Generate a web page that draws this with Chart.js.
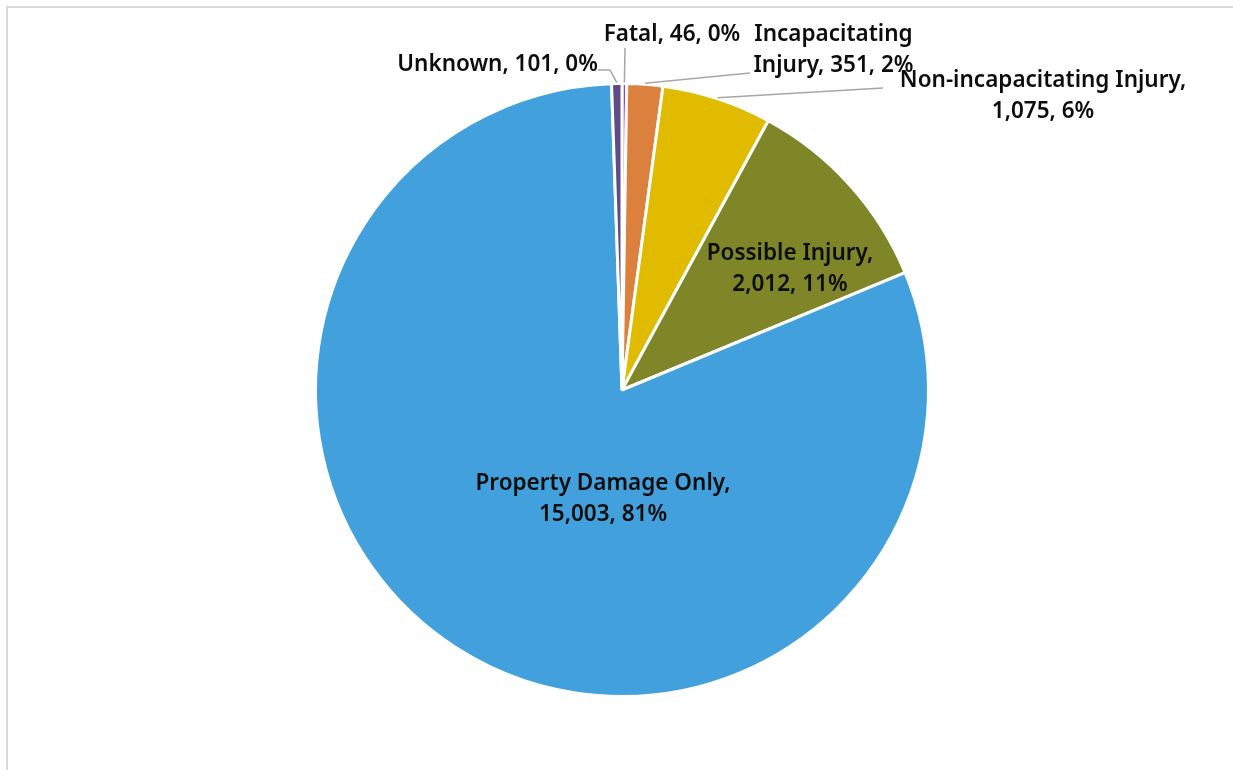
<!DOCTYPE html>
<html>
<head>
<meta charset="utf-8">
<script src="https://cdn.jsdelivr.net/npm/chart.js@4.4.1/dist/chart.umd.min.js"></script>
<style>
  html, body { margin: 0; padding: 0; background: #fff; overflow: hidden; }
  #frame {
    position: absolute; left: 6px; top: 6px; width: 1300px; height: 800px;
    border-left: 2px solid #d9d9d9; border-top: 2px solid #d9d9d9;
  }
  #wrap { position: absolute; left: 0; top: 0; width: 1233px; height: 770px; }
</style>
</head>
<body>
<div id="frame"></div>
<div id="wrap"><canvas id="chart" width="1233" height="770"></canvas></div>
<script>
// Crash counts by severity, clockwise from 12 o'clock
const categories = ['Fatal', 'Incapacitating Injury', 'Non-incapacitating Injury', 'Possible Injury', 'Property Damage Only', 'Unknown'];
const crashCounts = [46, 351, 1075, 2012, 15003, 101];
const percentLabels = [0, 2, 6, 11, 81, 0];
const sliceColors = ['#a8427a', '#db813d', '#e0bb00', '#7f8628', '#42a1dc', '#5e4b87'];

// Where each label wraps (number of words kept on the first line; 0 = single line)
const wrapAfterWords = [0, 1, 2, 2, 3, 0];

// Label placement relative to the pie (offsets in units of the pie radius from its centre)
const labelLayout = [
  { at: [0.163, -1.158], leader: [[0.0098, -1.116]] },
  { at: [0.690, -1.109], leader: [[0.4176, -1.034]] },
  { at: [1.3736, -0.959], leader: [[0.8515, -0.9853]] },
  { at: [0.548, -0.395], leader: null },
  { at: [-0.062, 0.3556], leader: null },
  { at: [-0.406, -1.0604], leader: [[-0.0392, -1.044], [-0.0783, -1.044]] }
];

function formatCount(v) { return v.toLocaleString('en-US'); }

// Build "Category, count, pct%" and wrap it into lines
function buildLines(i) {
  const words = (categories[i] + ', ' + formatCount(crashCounts[i]) + ', ' + percentLabels[i] + '%').split(' ');
  const n = wrapAfterWords[i];
  if (!n) return [words.join(' ')];
  return [words.slice(0, n).join(' '), words.slice(n).join(' ')];
}

const FONT = '600 22.5px "Noto Sans", "Open Sans", sans-serif';
const LINE_H = 31;

const sliceLabels = {
  id: 'sliceLabels',
  afterDatasetsDraw(chart) {
    const ctx = chart.ctx;
    const meta = chart.getDatasetMeta(0);
    ctx.save();
    meta.data.forEach((arc, i) => {
      const p = arc.getProps(['x', 'y', 'startAngle', 'endAngle', 'outerRadius'], true);
      const R = p.outerRadius;
      const lay = labelLayout[i];
      if (lay.leader) {
        const mid = (p.startAngle + p.endAngle) / 2;
        const r0 = R + 1;
        ctx.beginPath();
        ctx.moveTo(p.x + Math.cos(mid) * r0, p.y + Math.sin(mid) * r0);
        lay.leader.forEach(pt => ctx.lineTo(p.x + pt[0] * R, p.y + pt[1] * R));
        ctx.strokeStyle = '#a6a6a6';
        ctx.lineWidth = 1.5;
        ctx.stroke();
      }
      const lines = buildLines(i);
      const cx = p.x + lay.at[0] * R;
      const cy = p.y + lay.at[1] * R;
      ctx.font = FONT;
      ctx.fillStyle = '#0d0d0d';
      ctx.textAlign = 'center';
      ctx.textBaseline = 'middle';
      const top = cy - (lines.length - 1) * LINE_H / 2;
      lines.forEach((t, k) => ctx.fillText(t, cx, top + k * LINE_H));
    });
    ctx.restore();
  }
};

new Chart(document.getElementById('chart'), {
  type: 'pie',
  data: {
    labels: categories,
    datasets: [{
      data: crashCounts,
      backgroundColor: sliceColors,
      borderColor: '#ffffff',
      borderWidth: 3
    }]
  },
  options: {
    responsive: false,
    animation: false,
    layout: { padding: { left: 11, right: 0, top: 82, bottom: 72 } },
    plugins: {
      legend: { display: false },
      tooltip: { enabled: false }
    }
  },
  plugins: [sliceLabels]
});
</script>
</body>
</html>
